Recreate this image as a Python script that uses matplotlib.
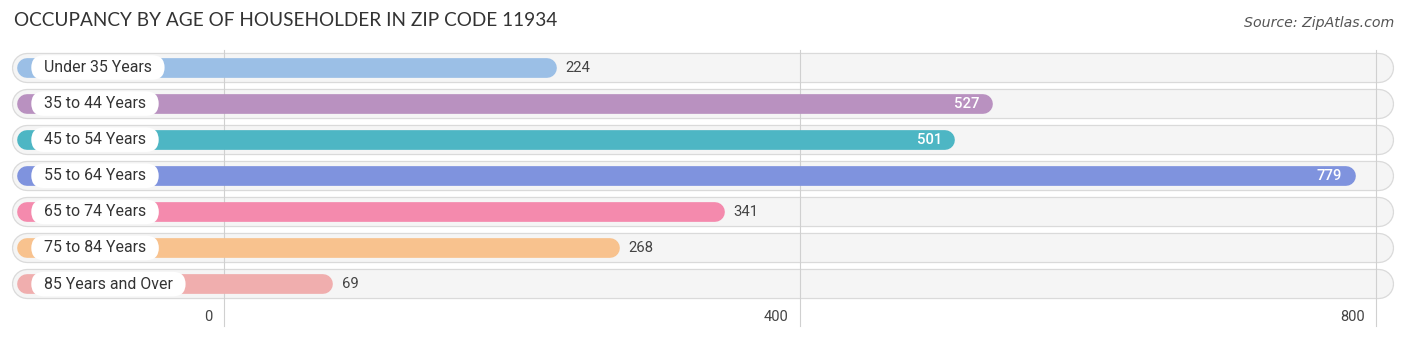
import matplotlib.pyplot as plt

# data
groups = ["Under 35 Years", "35 to 44 Years", "45 to 54 Years", "55 to 64 Years",
          "65 to 74 Years", "75 to 84 Years", "85 Years and Over"]
occupancy = [224, 527, 501, 779, 341, 268, 69]
colors = ["#9bbfe6", "#b991c0", "#4db6c4", "#7f93de", "#f48aad", "#f8c28e", "#f0aeae"]
ticks = [0, 400, 800]

W, H = 1406, 340
fig = plt.figure(figsize=(W / 100, H / 100), dpi=100)
ax = fig.add_axes([0, 0, 1, 1])
px = 1.44                       # pixels per unit
x0 = 224                        # pixel position of zero
ax.set_xlim(-x0 / px, (W - x0) / px)
ax.set_ylim(H, 0)
ax.axis("off")

def u(p):
    # pixel x -> data x
    return (p - x0) / px

row_y = [67.5 + i * 36.1 for i in range(len(groups))]
track_l, track_r = u(27), u(1379)
bar_l = u(27)

# grid lines
for t in ticks:
    ax.plot([t, t], [50, 326], color="#d0d0d0", lw=0.8, zorder=2)
    ax.text(t - 8, 317, str(t), ha="right", va="center", fontsize=10.5,
            color="#444444", family="Roboto")

for y, g, v, c in zip(row_y, groups, occupancy, colors):
    # background track with soft border
    ax.plot([track_l, track_r], [y, y], color="#dadada", lw=21.8,
            solid_capstyle="round", zorder=1)
    ax.plot([track_l, track_r], [y, y], color="#f5f5f5", lw=20,
            solid_capstyle="round", zorder=1.5)
    # value bar
    ax.plot([bar_l, v], [y, y], color=c, lw=14.2, solid_capstyle="round", zorder=3)
    # category pill
    ax.text(u(36), y, "  " + g + "  ", ha="left", va="center", fontsize=11.4,
            color="#333333", family="Roboto", zorder=5,
            bbox=dict(boxstyle="round,pad=0.3,rounding_size=0.8", fc="white", ec="none"))
    if v > 450:
        ax.text(v - 2.5, y, str(v), ha="right", va="center", fontsize=10.7,
                color="white", family="Roboto", fontweight="medium", zorder=6)
    else:
        ax.text(v + 13, y, str(v), ha="left", va="center", fontsize=10.7,
                color="#444444", family="Roboto", zorder=6)

fig.text(14 / W, 1 - 21 / H, "OCCUPANCY BY AGE OF HOUSEHOLDER IN ZIP CODE 11934",
         ha="left", va="center", fontsize=13.7, color="#333333", family="Lato")
fig.text(1394 / W, 1 - 23 / H, "Source: ZipAtlas.com", ha="right", va="center",
         fontsize=10.2, color="#555555", style="italic", family="DejaVu Sans")

fig.savefig("out.png", dpi=100, facecolor="white")
